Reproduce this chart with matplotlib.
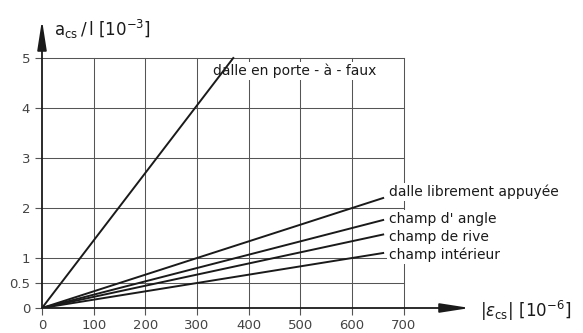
import numpy as np
import matplotlib.pyplot as plt

# Raccourcissement - fleche relative selon le type de dalle
x_end = [370, 660, 660, 660, 660]
y_end = [5.0, 2.2, 1.76, 1.47, 1.1]
labels = ['dalle en porte - à - faux', 'dalle librement appuyée',
          "champ d' angle", 'champ de rive', 'champ intérieur']
label_x = [330, 672, 672, 672, 672]
label_y = [4.74, 2.32, 1.78, 1.42, 1.06]

xticks = [0, 100, 200, 300, 400, 500, 600, 700]
yticks = [0, 0.5, 1, 2, 3, 4, 5]

plt.rcParams['font.family'] = ['DejaVu Sans']
plt.rcParams['mathtext.fontset'] = 'dejavusans'

fig = plt.figure(figsize=(5.83, 3.33), dpi=100)
fig.patch.set_facecolor('white')
ax = fig.add_axes([42/583, 25/333, 428/583, 288/333])
ax.set_xlim(0, 828)
ax.set_ylim(0, 5.76)
for s in ax.spines.values():
    s.set_visible(False)

gcol = '#555555'
# grille
for yv in yticks[1:]:
    ax.plot([0, 700], [yv, yv], color=gcol, lw=0.75, zorder=1)
for xv in xticks[1:]:
    ax.plot([xv, xv], [0, 5], color=gcol, lw=0.75, zorder=1)

# courbes
for xe, ye in zip(x_end, y_end):
    ax.plot([0, xe], [0, ye], color='#1a1a1a', lw=1.4, zorder=4)

for t, lx, ly in zip(labels, label_x, label_y):
    ax.text(lx, ly, t, fontsize=10, color='#1a1a1a', va='center', ha='left',
            zorder=3, bbox=dict(facecolor='white', edgecolor='none', pad=1.5))

# axes avec fleches
ax.annotate('', xy=(828, 0), xytext=(0, 0), annotation_clip=False,
            arrowprops=dict(arrowstyle='-|>,head_length=1.8,head_width=0.28',
                            color='#1a1a1a', lw=1.3, shrinkA=0, shrinkB=0))
ax.annotate('', xy=(0, 5.76), xytext=(0, 0), annotation_clip=False,
            arrowprops=dict(arrowstyle='-|>,head_length=1.8,head_width=0.28',
                            color='#1a1a1a', lw=1.3, shrinkA=0, shrinkB=0))

ax.set_xticks(xticks)
ax.set_xticklabels([str(v) for v in xticks])
ax.set_yticks(yticks)
ax.set_yticklabels(['0', '0.5', '1', '2', '3', '4', '5'])
ax.tick_params(axis='both', colors=gcol, labelcolor='#444444', labelsize=9.5,
               length=5, width=0.8, direction='out')
ax.tick_params(axis='x', pad=3)

ax.text(23, 5.58, r'$\mathrm{a_{cs}}\,/\,\mathrm{l}\ \left[\mathrm{10^{-3}}\right]$',
        fontsize=12, color='#1a1a1a', va='center', ha='left')
ax.text(848, -0.05, r'$|\varepsilon_{\mathrm{cs}}|\ \left[\mathrm{10^{-6}}\right]$',
        fontsize=12, color='#1a1a1a', va='center', ha='left', clip_on=False)

fig.savefig('out.png', dpi=100)
